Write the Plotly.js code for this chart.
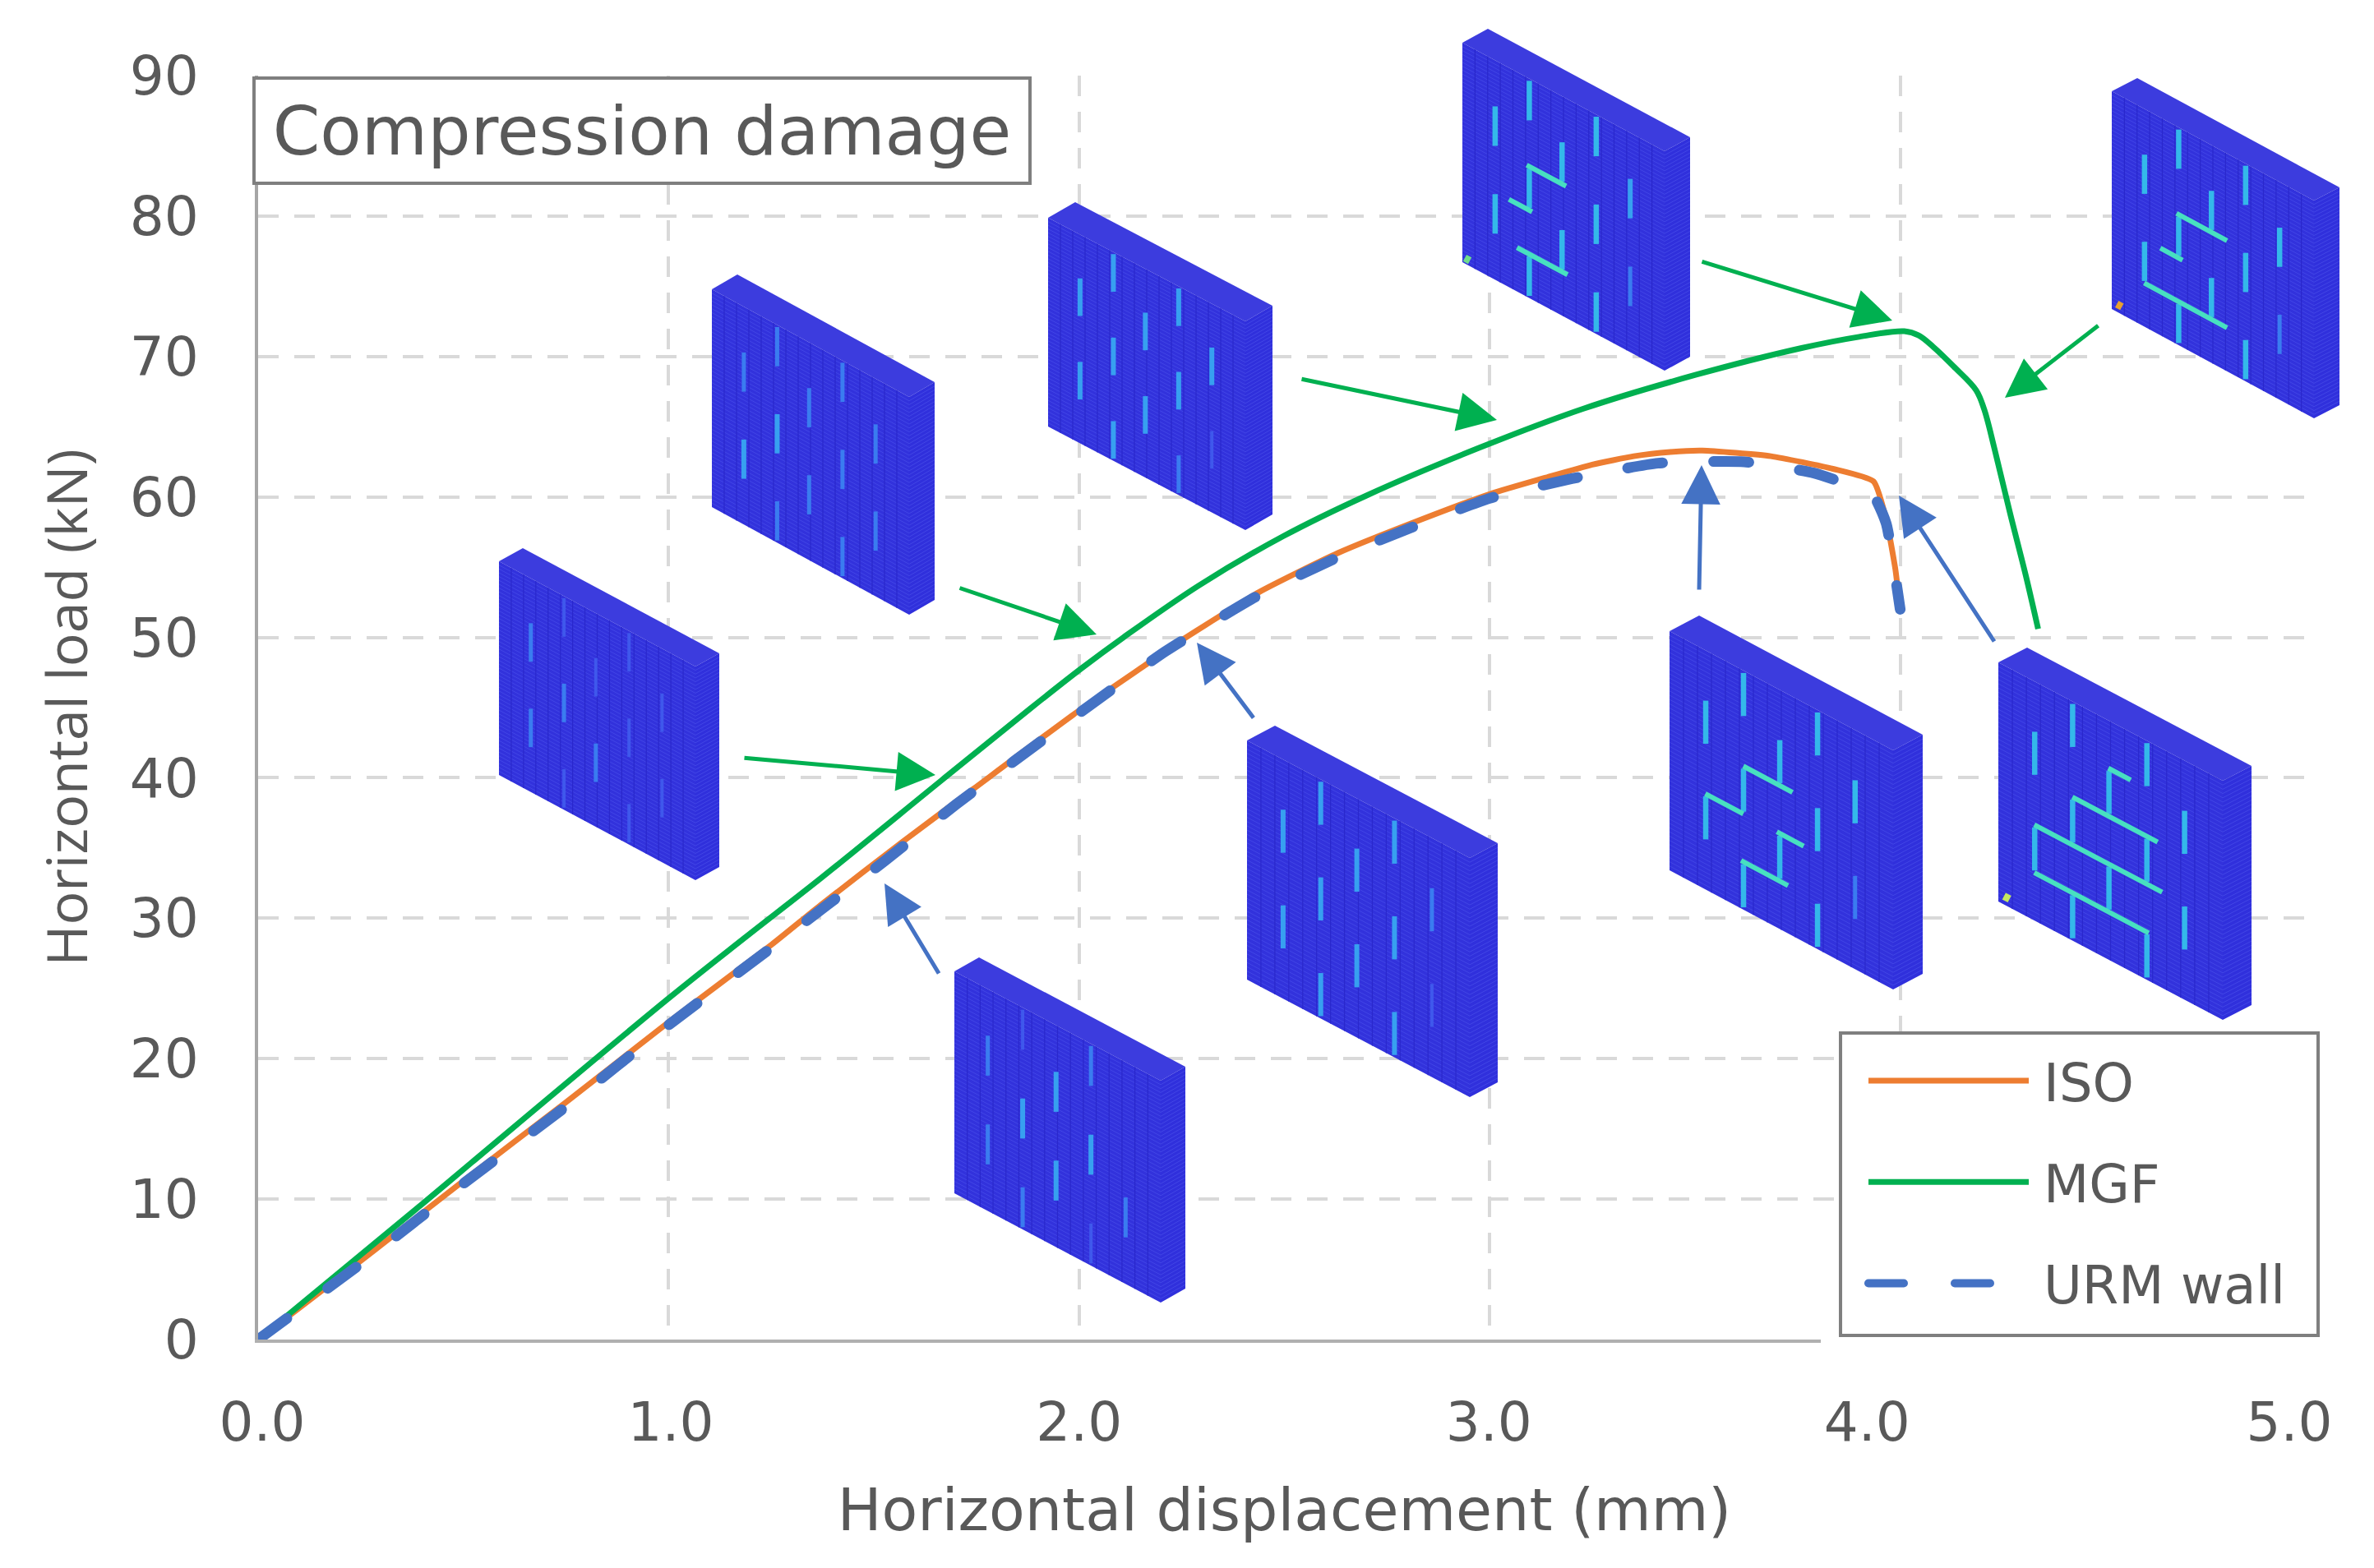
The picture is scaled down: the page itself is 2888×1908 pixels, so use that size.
<!DOCTYPE html>
<html><head><meta charset="utf-8">
<script src="https://cdn.plot.ly/plotly-3.0.1.min.js"></script>
<style>html,body{margin:0;padding:0;background:#fff}</style></head>
<body><div id="chart" style="width:2888px;height:1908px"></div>
<script>
// ---------- chart values ----------
const isoX = [0,0.25,0.5,0.75,1.0,1.25,1.373,1.568,1.742,1.986,2.16,2.25,2.437,2.63,2.834,3.0,3.14,3.25,3.351,3.44,3.518,3.685,3.836,3.935,3.966,3.988,4.0];
const isoY = [0,5.6,11.3,16.9,22.6,28.1,31.0,35.4,39.2,44.5,48.0,49.8,53.2,56.0,58.4,60.2,61.4,62.3,62.9,63.2,63.3,62.9,62.0,61.1,58.4,54.9,52.0];
const mgfX = [0,0.406,0.52,1.0,1.185,1.373,1.664,1.884,2.006,2.108,2.292,2.497,2.70,2.975,3.23,3.503,3.76,3.9,4.01,4.045,4.08,4.13,4.185,4.205,4.23,4.268,4.306,4.336];
const mgfY = [0,9.8,12.6,24.3,28.6,32.9,39.8,45.0,47.8,50.0,53.7,57.2,60.1,63.5,66.3,68.7,70.6,71.4,71.8,71.5,70.7,69.3,67.6,66.2,63.4,58.8,54.4,50.6];
const urmX = [0,0.25,0.5,0.75,1.0,1.25,1.527,1.70,1.986,2.21,2.437,2.63,2.834,3.0,3.2,3.41,3.62,3.79,3.90,3.935,3.966,3.98,4.0];
const urmY = [0,5.4,11.1,16.6,22.4,27.9,34.1,38.1,44.3,49.0,53.0,55.7,58.1,59.9,61.3,62.4,62.5,61.7,60.6,60.1,58.1,55.9,52.0];
const xTickGrid = [1,2,3,4,5];
const xTickText = ['0.0','1.0','2.0','3.0','4.0','5.0'];
const xTickLabelAt = [0.01,1.005,2.0,2.998,3.919,4.948];
const yTickVals = [0,10,20,30,40,50,60,70,80,90];

// ---------- joint layout of the damage insets (running-bond masonry) ----------
const jointU = [.331,.662,.162,.493,.83,.331,.662,.162,.493,.83,.331,.662];
const jointRow = [0,0,1,1,1,2,2,3,3,3,4,4];
const wallFrames = [
 {A:[607,683],F:[239,128],H:260,D:[29,-16],j:[1,1,2,1,1,2,1,2,2,1,1,1],h:[]},
 {A:[866,352],F:[240,131],H:265,D:[31,-18],j:[2,2,2,2,2,3,2,3,2,2,2,2],h:[]},
 {A:[1275,265],F:[240,126],H:254,D:[33,-19],j:[3,3,3,3,3,3,3,3,3,1,3,2],h:[]},
 {A:[1779,52],F:[246,132],H:267,D:[31,-17],j:[4,4,4,4,3,4,4,4,4,2,4,4],h:[[.318,.513,.4],[.23,.345,.6],[.27,.52,.8]],spot:[.012,.975,'#6fdc8c']},
 {A:[2569,111],F:[246,133],H:265,D:[31,-16],j:[4,4,4,4,4,4,4,4,4,2,4,4],h:[[.32,.57,.4],[.24,.35,.6],[.16,.57,.8]],spot:[.025,.965,'#e8a030']},
 {A:[1161,1182],F:[251,133],H:270,D:[30,-17],j:[1,2,2,3,0,3,3,2,3,2,2,1],h:[]},
 {A:[1517,901],F:[271,143],H:291,D:[34,-18],j:[3,3,3,3,2,3,3,3,3,1,3,3],h:[]},
 {A:[2031,768],F:[272,145],H:291,D:[36,-19],j:[4,4,4,4,4,4,4,4,4,2,4,4],h:[[.33,.55,.4],[.16,.33,.6],[.48,.6,.6],[.32,.53,.8]]},
 {A:[2431,806],F:[273,144],H:291,D:[35,-18],j:[4,4,4,4,4,4,4,4,4,4,4,4],h:[[.49,.59,.2],[.33,.71,.4],[.16,.73,.6],[.16,.67,.8]],spot:[.025,.965,'#c4e860']}
];
const crackColors = [null,'#3f58ec','#3a7cf0','#37a0f0','#34b8ea','#48e0c0'];
const crackWidths = [0,4,5,6,6.5,6];
// white backgrounds of the pasted insets: [x0,y0,x1,y1]
const insetMasks = [[597,661,891,1077],[858,330,1152,755],[1265,240,1553,649],[1765,0,2082,456],[2547,60,2870,527],
 [1134,1160,1461,1596],[1508,857,1827,1342],[2020,749,2363,1240],[2429,790,2744,1245],[2193,1240,2830,1640]];
// [tailX,tailY,headX,headY]
const greenArrows = [[904,922,1138,943],[1166,715,1334,772],[1582,461,1821,511],[2069,318,2302,390],[2554,395,2439,484]];
const blueArrows = [[1143,1186,1076,1075],[1526,875,1456,782],[2067,719,2070,566],[2427,782,2310,603]];

// ---------- page geometry ----------
const plotL=314, plotR=2811, plotT=92, plotB=1630;
const fx=x=>((x-plotL)/(plotR-plotL)).toFixed(5);
const fy=y=>(1-(y-plotT)/(plotB-plotT)).toFixed(5);
const P=(x,y)=>fx(x)+','+fy(y);
const poly=pts=>'M'+pts.map(p=>P(p[0],p[1])).join('L')+'Z';
const paperShape=(path,extra)=>Object.assign({type:'path',xref:'paper',yref:'paper',path,layer:'above'},extra);

const shapes=[];
insetMasks.forEach(m=>shapes.push({type:'rect',xref:'paper',yref:'paper',x0:fx(m[0]),x1:fx(m[2]),y0:fy(m[3]),y1:fy(m[1]),
  fillcolor:'#ffffff',line:{width:0},layer:'between'}));
// covers the end of the x axis beside and under the legend
shapes.push({type:'rect',xref:'paper',yref:'paper',x0:fx(2215),x1:fx(2850),y0:fy(1642),y1:fy(1620),fillcolor:'#fff',line:{width:0},layer:'above'});

wallFrames.forEach(w=>{
  const [ax,ay]=w.A,[fdx,fdy]=w.F,[dx,dy]=w.D,H=w.H;
  const pt=(u,v)=>[ax+u*fdx,ay+u*fdy+v*H];
  const A=pt(0,0),B=pt(1,0),C=pt(1,1),E=pt(0,1);
  shapes.push(paperShape(poly([A,[A[0]+dx,A[1]+dy],[B[0]+dx,B[1]+dy],B]),{fillcolor:'#3c3cde',line:{width:0}}));
  shapes.push(paperShape(poly([B,[B[0]+dx,B[1]+dy],[C[0]+dx,C[1]+dy],C]),{fillcolor:'#3030dc',line:{width:0}}));
  shapes.push(paperShape(poly([A,B,C,E]),{fillcolor:'#3232dc',line:{width:0}}));
  // mesh
  let rows='',cols='';
  for(let i=1;i<56;i++){const a=pt(0,i/56),b=pt(1,i/56);rows+='M'+P(a[0],a[1])+'L'+P(b[0],b[1])+'L'+P(b[0]+dx,b[1]+dy);}
  for(let i=1;i<16;i++){const a=pt(i/16,0),b=pt(i/16,1);cols+='M'+P(a[0],a[1])+'L'+P(b[0],b[1]);}
  shapes.push(paperShape(rows,{line:{color:'#4246e6',width:1}}));
  shapes.push(paperShape(cols,{line:{color:'#2a28cc',width:1.2}}));
  // vertical head joints
  w.j.forEach((lv,i)=>{ if(!lv) return;
    const a=pt(jointU[i],jointRow[i]*.2+.01),b=pt(jointU[i],(jointRow[i]+1)*.2-.01);
    shapes.push(paperShape('M'+P(a[0],a[1])+'L'+P(b[0],b[1]),{line:{color:crackColors[lv],width:crackWidths[lv]}}));
  });
  // bed joints
  w.h.forEach(s=>{const a=pt(s[0],s[2]),b=pt(s[1],s[2]);
    shapes.push(paperShape('M'+P(a[0],a[1])+'L'+P(b[0],b[1]),{line:{color:crackColors[5],width:crackWidths[5]}}));
  });
  if(w.spot){const a=pt(w.spot[0],w.spot[1]),b=pt(w.spot[0]+.025,w.spot[1]);
    shapes.push(paperShape('M'+P(a[0],a[1])+'L'+P(b[0],b[1]),{line:{color:w.spot[2],width:9}}));}
});
// legend frame (drawn under the legend)
shapes.push({type:'rect',xref:'paper',yref:'paper',x0:fx(2239),x1:fx(2820),y0:fy(1625),y1:fy(1257),fillcolor:'#ffffff',line:{color:'#7f7f7f',width:4},layer:'above'});

const arrow=(a,color)=>({xref:'paper',yref:'paper',x:+fx(a[2]),y:+fy(a[3]),axref:'pixel',ayref:'pixel',ax:a[0]-a[2],ay:a[1]-a[3],
  showarrow:true,arrowhead:2,arrowsize:1.9,arrowwidth:5,arrowcolor:color,text:'',standoff:0});
const annotations=[...greenArrows.map(a=>arrow(a,'#00b050')),...blueArrows.map(a=>arrow(a,'#4472c4')),
 {xref:'paper',yref:'paper',x:+fx(781),y:+fy(159),xanchor:'center',yanchor:'middle',showarrow:false,text:'Compression damage',
  font:{family:'DejaVu Sans',size:82.5,color:'#595959'},bgcolor:'#ffffff',bordercolor:'#7f7f7f',borderwidth:4,width:940,height:124,borderpad:0}];

const tickFont={family:'DejaVu Sans',size:66,color:'#595959'};
const traces=[
 {name:'ISO',x:isoX,y:isoY,mode:'lines',legendgroup:'a',line:{color:'#ed7d31',width:7,shape:'spline',smoothing:.5}},
 {name:'MGF',x:mgfX,y:mgfY,mode:'lines',legendgroup:'b',line:{color:'#00b050',width:7,shape:'spline',smoothing:1}},
 {name:'URM wall',x:urmX,y:urmY,mode:'lines',legendgroup:'c',line:{color:'#4472c4',width:13,dash:'43px,62px',shape:'spline',smoothing:.5}},
 {x:[null],y:[null],xaxis:'x2',showlegend:false,hoverinfo:'skip',mode:'lines'}
];
const layout={
 width:2888,height:1908,paper_bgcolor:'#fff',plot_bgcolor:'#fff',
 margin:{l:plotL,r:2888-plotR,t:plotT,b:1908-plotB,pad:0},
 font:{family:'DejaVu Sans',color:'#595959'},
 xaxis:{range:[0,5],tickvals:xTickGrid,showticklabels:false,ticks:'',showgrid:true,gridcolor:'#d9d9d9',gridwidth:4,griddash:'25px,19px',
   showline:true,linecolor:'#b0b0b0',linewidth:4,zeroline:false,
   title:{text:'Horizontal displacement (mm)',font:{family:'DejaVu Sans',size:71.5,color:'#595959'},standoff:180},automargin:false},
 xaxis2:{range:[0,5],overlaying:'x',side:'bottom',anchor:'y',tickmode:'array',tickvals:xTickLabelAt,ticktext:xTickText,tickfont:tickFont,
   ticks:'outside',ticklen:43,tickcolor:'rgba(0,0,0,0)',showgrid:false,showline:false,zeroline:false,automargin:false},
 yaxis:{range:[0,90],tickmode:'array',tickvals:yTickVals,tickfont:tickFont,ticks:'outside',ticklen:55,tickcolor:'rgba(0,0,0,0)',
   showgrid:true,gridcolor:'#d9d9d9',gridwidth:4,griddash:'25px,19px',showline:true,linecolor:'#a6a6a6',linewidth:4,zeroline:false,
   title:{text:'Horizontal load (kN)',font:{family:'Open Sans',size:68,color:'#595959'},standoff:30},automargin:false},
 showlegend:true,
 legend:{x:+fx(2268),y:+fy(1267),xanchor:'left',yanchor:'top',bgcolor:'rgba(0,0,0,0)',borderwidth:0,itemwidth:195,tracegroupgap:37,
   font:{family:'DejaVu Sans',size:64,color:'#595959'}},
 shapes,annotations
};
Plotly.newPlot('chart',traces,layout,{staticPlot:true,displayModeBar:false}).then(()=>{
  document.querySelectorAll('path.js-line').forEach(p=>{ if(p.style.strokeDasharray && p.style.strokeDasharray!=='none') p.style.strokeLinecap='round'; });
  document.querySelectorAll('.legendtext').forEach(t=>t.setAttribute('x',+t.getAttribute('x')+13));
  // the legend's own clip box is sized before the label offset above
  document.querySelectorAll('.legend, .legend .scrollbox, .legend .legendtoggle').forEach(g=>{g.removeAttribute('clip-path');g.style.clipPath='none';});
});
</script></body></html>
